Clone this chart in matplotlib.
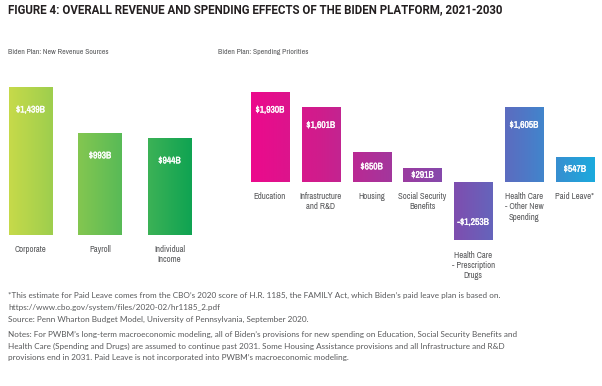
import numpy as np
import matplotlib
matplotlib.use("Agg")
import matplotlib.pyplot as plt
import matplotlib.patheffects as pe
from matplotlib.colors import LinearSegmentedColormap

# =============================
# DATA
# =============================
rev_labels = ["Corporate", "Payroll", "Individual\nIncome"]
rev_values = [1439, 993, 944]

spend_labels = ["Education", "Infrastructure\nand R&D", "Housing", "Social Security\nBenefits",
                "Health Care\n- Prescription\nDrugs", "Health Care\n- Other New\nSpending", "Paid Leave*"]
spend_values = [1930, 1601, 650, 291, -1253, 1605, 547]

title = "FIGURE 4: OVERALL REVENUE AND SPENDING EFFECTS OF THE BIDEN PLATFORM, 2021-2030"
rev_title = "Biden Plan: New Revenue Sources"
spend_title = "Biden Plan: Spending Priorities"
notes = [
    "*This estimate for Paid Leave comes from the CBO\u2019s 2020 score of H.R. 1185, the FAMILY Act, which Biden\u2019s paid leave plan is based on.\nhttps://www.cbo.gov/system/files/2020-02/hr1185_2.pdf",
    "Source: Penn Wharton Budget Model, University of Pennsylvania, September 2020.",
    "Notes: For PWBM\u2019s long-term macroeconomic modeling, all of Biden\u2019s provisions for new spending on Education, Social Security Benefits and\nHealth Care (Spending and Drugs) are assumed to continue past 2031. Some Housing Assistance provisions and all Infrastructure and R&D\nprovisions end in 2031. Paid Leave is not incorporated into PWBM\u2019s macroeconomic modeling.",
]

green_cmap = LinearSegmentedColormap.from_list("g", ["#c6da4a", "#8dc94f", "#4fb858", "#0fa352"])
pink_cmap = LinearSegmentedColormap.from_list(
    "p", ["#ec0a8c", "#cf1d8c", "#a4369c", "#7d4fb0", "#4f78c6", "#1baadd"])

# condensed face if present, otherwise Roboto
LABEL_FONT = ["Archivo Narrow", "Roboto"]
TEXT_GREY = "#58595b"

W, H = 602, 386
fig = plt.figure(figsize=(W / 100, H / 100), dpi=100)


def px_axes(x0, y0, x1, y1):
    # pixel box (top-left origin) -> figure axes
    return fig.add_axes([x0 / W, 1 - y1 / H, (x1 - x0) / W, (y1 - y0) / H])


def money(v):
    s = f"\\${abs(v):,}B"
    return "-" + s if v < 0 else s


def gradient_bars(ax, values, labels, cmap, width, xlim, ylim, inset_px, px_per_unit):
    ax.axis("off")
    xs = np.arange(len(values))
    bars = ax.bar(xs, values, width=width, color="none", edgecolor="none")
    grad = np.linspace(0, 1, 256).reshape(1, -1)
    span = (len(values) - 1) + width
    for x, v, b in zip(xs, values, bars):
        f0 = x / span
        f1 = (x + width) / span
        im = ax.imshow(grad * (f1 - f0) + f0, cmap=cmap, vmin=0, vmax=1, aspect="auto",
                       extent=[x - width / 2, x + width / 2, min(v, 0), max(v, 0)], zorder=1)
        im.set_clip_path(b)
    ax.set_xlim(*xlim)
    ax.set_ylim(*ylim)
    for x, v, lab in zip(xs, values, labels):
        h_px = abs(v) * px_per_unit
        d = min(inset_px, h_px / 2) / px_per_unit
        ypos = v - d if v > 0 else v + d
        ax.text(x, ypos, money(v), ha="center", va="center", color="white",
                fontsize=6.8, fontweight="bold", family=LABEL_FONT, zorder=3,
                path_effects=[pe.withStroke(linewidth=0.2, foreground="white")])
        ax.annotate(lab, (x, min(v, 0)), xytext=(0, -7.5), textcoords="offset points",
                    ha="center", va="top", fontsize=6.3, color=TEXT_GREY,
                    family=LABEL_FONT, linespacing=1.15)


# left chart: baseline 235 px, 0.1029 px per $B, bar centres 30.5 + 69.5*i
ax1 = px_axes(0, 80, 205, 235)
gradient_bars(ax1, rev_values, rev_labels, green_cmap, 0.62,
              (-30.5 / 69.5, (205 - 30.5) / 69.5), (0, 155 / 0.1029), 23, 0.1029)

# right chart: baseline 182 px, 0.0466 px per $B, bar centres 270 + 50.8*i
ax2 = px_axes(220, 80, 602, 250)
gradient_bars(ax2, spend_values, spend_labels, pink_cmap, 0.75,
              (-50 / 50.8, 332 / 50.8), (-68 / 0.0466, 102 / 0.0466), 18, 0.0466)

fig.text(8 / W, 1 - 10 / H, title, ha="left", va="center", fontsize=8.3,
         fontweight="bold", color="#231f20", family=["Roboto"])
fig.text(8 / W, 1 - 52 / H, rev_title, ha="left", va="center", fontsize=5.6,
         color=TEXT_GREY, family=LABEL_FONT)
fig.text(218 / W, 1 - 52 / H, spend_title, ha="left", va="center", fontsize=5.6,
         color=TEXT_GREY, family=LABEL_FONT)

note_y = [292, 316, 331]
for y, t in zip(note_y, notes):
    fig.text(8 / W, 1 - y / H, t, ha="left", va="top", fontsize=5.9,
             color=TEXT_GREY, family=["Lato"], linespacing=1.75)

fig.savefig("out.png", dpi=100, facecolor="white")
